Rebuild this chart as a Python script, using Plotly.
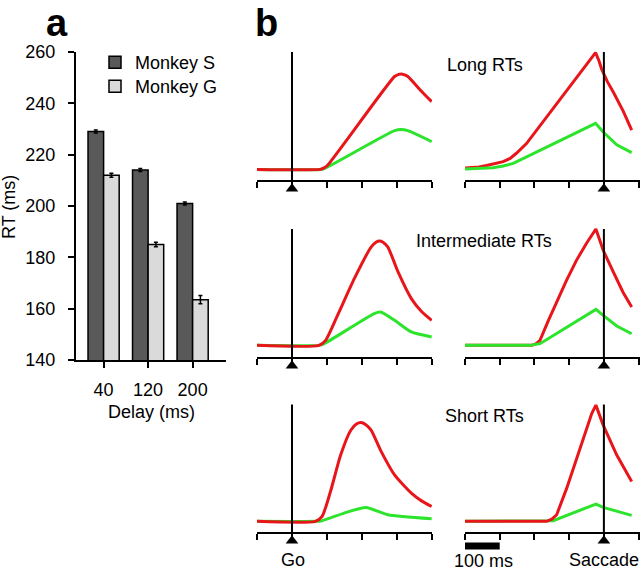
import plotly.graph_objects as go

# Panel a: tiempos de reacción por retraso
DELAYS = ["40", "120", "200"]
RT_MONKEY_S = [229, 214, 201]
RT_MONKEY_S_ERR = [0.6, 0.6, 0.6]
RT_MONKEY_G = [212, 185, 163.5]
RT_MONKEY_G_ERR = [0.8, 0.9, 1.6]
RT_TICKS = [140, 160, 180, 200, 220, 240, 260]

# Panel b: actividad alineada a Go (izquierda) y a la sacada (derecha)
ROW_TITLES = ["Long RTs", "Intermediate RTs", "Short RTs"]
GO_TICKS = [-100, 0, 100, 200, 300, 400]
SAC_TICKS = [-400, -300, -200, -100, 0, 100]

LONG_GO_RED_T = [-100, 80, 90, 101, 293, 305, 312, 320, 331, 365, 399]
LONG_GO_RED = [9, 9, 10, 12, 81, 82.6, 83, 82.4, 81, 71, 61.5]
LONG_GO_GREEN_T = [-100, 82, 95, 293, 312, 331, 399]
LONG_GO_GREEN = [9, 9, 10, 39, 40, 39, 30.5]

LONG_SAC_RED_T = [-400, -360, -338, -310, -290, -270, -252, -223, -24, -14, -7, 10, 27, 56, 80]
LONG_SAC_RED = [10, 10.8, 12, 13.6, 15, 17.5, 21.5, 29, 99.5, 93, 87, 77, 69, 54, 39.5]
LONG_SAC_GREEN_T = [-400, -319, -290, -261, -24, -2, 37, 80]
LONG_SAC_GREEN = [9.3, 10.3, 11.6, 13.7, 44.7, 38, 28, 22]

MID_GO_RED_T = [-100, 77, 96, 130, 178, 226, 240, 250, 260, 274, 303, 341, 370, 399]
MID_GO_RED = [9.8, 9.8, 13.7, 33, 61.5, 86, 89.8, 90.7, 89.8, 86, 66.7, 46, 36, 29.2]
MID_GO_GREEN_T = [-100, 77, 91, 235, 253, 293, 341, 399]
MID_GO_GREEN = [9.8, 9.8, 11, 34.4, 35.6, 29.2, 20.2, 16.3]

MID_SAC_RED_T = [-400, -208, -196, -184, -160, -136, -108, -79, -50, -23, -12, -2, 27, 55, 80]
MID_SAC_RED = [9.8, 9.8, 11, 13.7, 29, 43.4, 60, 75.7, 89, 100, 91, 83.5, 66.7, 51, 39.5]
MID_SAC_GREEN_T = [-400, -213, -184, -23, -2, 37, 80]
MID_SAC_GREEN = [9.8, 9.8, 11.1, 37.7, 33, 24.8, 18.8]

SHORT_GO_RED_T = [-100, 67, 86, 110, 139, 168, 185, 197, 210, 226, 255, 293, 341, 370, 399]
SHORT_GO_RED = [9.1, 9.1, 12.9, 32.3, 60.7, 80, 85, 86, 84.5, 80, 63.3, 45.2, 31, 25, 20.7]
SHORT_GO_GREEN_T = [-100, 67, 86, 149, 211, 274, 399]
SHORT_GO_GREEN = [9.1, 9.1, 9.6, 15.5, 19.9, 14.2, 11.1]

SHORT_SAC_RED_T = [-400, -165, -150, -136, -107, -69, -35, -23, -12, -2, 37, 60, 80]
SHORT_SAC_RED = [9.1, 9.1, 10.8, 14.2, 34.9, 65.9, 93, 99.5, 91, 84, 60.7, 49, 40]
SHORT_SAC_GREEN_T = [-400, -146, -23, -2, 80]
SHORT_SAC_GREEN = [9.1, 9.6, 22.5, 19.9, 13.7]

EVENT_T = [0, 0]
EVENT_Y = [0, 100]
EVENT_MARK_Y = [-6]
SCALE_BAR_T = [-400, -300]

W, H = 640, 571
FONT = "Liberation Sans, Arial, sans-serif"
RED = "#e8161b"
GREEN = "#2ce42c"


def px_x(p):
	return p / W


def px_y(p):
	return 1 - p / H


def main():
	fig = go.Figure()

	# ---- panel a ----
	fig.add_trace(go.Bar(
		x=DELAYS, y=RT_MONKEY_S, name="Monkey S", legend="legend",
		marker=dict(color="#595959", line=dict(color="black", width=1.5)),
		error_y=dict(type="data", array=RT_MONKEY_S_ERR, color="black", thickness=1.5, width=2),
		xaxis="x", yaxis="y"))
	fig.add_trace(go.Bar(
		x=DELAYS, y=RT_MONKEY_G, name="Monkey G", legend="legend2",
		marker=dict(color="#dadada", line=dict(color="black", width=1.5)),
		error_y=dict(type="data", array=RT_MONKEY_G_ERR, color="black", thickness=1.5, width=2),
		xaxis="x", yaxis="y"))

	# ---- panel b ----
	rows = [
		(LONG_GO_RED_T, LONG_GO_RED, LONG_GO_GREEN_T, LONG_GO_GREEN,
		 LONG_SAC_RED_T, LONG_SAC_RED, LONG_SAC_GREEN_T, LONG_SAC_GREEN),
		(MID_GO_RED_T, MID_GO_RED, MID_GO_GREEN_T, MID_GO_GREEN,
		 MID_SAC_RED_T, MID_SAC_RED, MID_SAC_GREEN_T, MID_SAC_GREEN),
		(SHORT_GO_RED_T, SHORT_GO_RED, SHORT_GO_GREEN_T, SHORT_GO_GREEN,
		 SHORT_SAC_RED_T, SHORT_SAC_RED, SHORT_SAC_GREEN_T, SHORT_SAC_GREEN),
	]
	# posiciones en pixeles: (eje, tope de la linea vertical)
	row_px = [(181, 52), (358, 229), (533, 404.5)]
	green_on_top = [(False, True), (False, True), (False, False)]

	axis_style = dict(showline=True, linecolor="black", linewidth=2, ticks="outside",
		ticklen=6, tickwidth=2, tickcolor="black", showticklabels=False,
		showgrid=False, zeroline=False, automargin=False)

	n = 2
	for r, data in enumerate(rows):
		bottom, top = row_px[r]
		unit = (bottom - top) / 100.0
		# el rango baja a -10 para que quepa el triangulo; el eje x queda en y=0
		dom = [px_y(bottom + 10 * unit), px_y(bottom - 102 * unit)]
		for c in range(2):
			xa = "x%d" % n
			ya = "y%d" % n
			red_t, red_y, green_t, green_y = data[c * 4:c * 4 + 4]
			# izquierda: picos redondeados; derecha: picos agudos
			if c == 0:
				shape = dict(shape="spline", smoothing=0.6)
			else:
				shape = dict(shape="linear")
			red = go.Scatter(x=red_t, y=red_y, mode="lines", showlegend=False,
				line=dict(color=RED, width=3, **shape), xaxis=xa, yaxis=ya)
			green = go.Scatter(x=green_t, y=green_y, mode="lines", showlegend=False,
				line=dict(color=GREEN, width=3, **shape), xaxis=xa, yaxis=ya)
			if green_on_top[r][c]:
				fig.add_trace(red)
				fig.add_trace(green)
			else:
				fig.add_trace(green)
				fig.add_trace(red)
			fig.add_trace(go.Scatter(x=EVENT_T, y=EVENT_Y, mode="lines", showlegend=False,
				line=dict(color="black", width=2), xaxis=xa, yaxis=ya))
			fig.add_trace(go.Scatter(x=EVENT_T[:1], y=EVENT_MARK_Y, mode="markers", showlegend=False,
				marker=dict(symbol="triangle-up", size=11, color="black", line=dict(width=0)),
				cliponaxis=False, xaxis=xa, yaxis=ya))

			if c == 0:
				xdom = [px_x(257), px_x(432)]
				xr = [-100, 400]
				tv = GO_TICKS
			else:
				xdom = [px_x(465), 1.0]
				xr = [-400, 104]
				tv = SAC_TICKS
			fig.layout["xaxis%d" % n] = dict(axis_style, domain=xdom, range=xr, tickvals=tv,
				anchor="free", position=px_y(bottom))
			fig.layout["yaxis%d" % n] = dict(domain=dom, range=[-10, 102], visible=False,
				anchor=xa, automargin=False)
			n += 1

	# barra de escala de 100 ms
	fig.add_shape(type="line", xref="x7", yref="paper", x0=SCALE_BAR_T[0], x1=SCALE_BAR_T[1],
		y0=px_y(546), y1=px_y(546), line=dict(color="black", width=7))

	annotations = [
		dict(text="<b>a</b>", x=57, y=0, size=38, anchor="top"),
		dict(text="<b>b</b>", x=266, y=0, size=38, anchor="top"),
		dict(text="RT (ms)", x=9, y=207, size=18, angle=-90),
		dict(text="Delay (ms)", x=151, y=412, size=18),
		dict(text=ROW_TITLES[0], x=484.5, y=65, size=18),
		dict(text=ROW_TITLES[1], x=484, y=241, size=18),
		dict(text=ROW_TITLES[2], x=484, y=416, size=18),
		dict(text="Go", x=293, y=560, size=18),
		dict(text="100 ms", x=483, y=561, size=18),
		dict(text="Saccade", x=604, y=560, size=18),
	]
	for a in annotations:
		fig.add_annotation(text=a["text"], x=px_x(a["x"]), y=px_y(a["y"]), xref="paper", yref="paper",
			showarrow=False, xanchor="center", yanchor=a.get("anchor", "middle"),
			textangle=a.get("angle", 0),
			font=dict(family=FONT, size=a["size"], color="black"))

	legend_style = dict(xanchor="left", yanchor="top", font=dict(size=18),
		bgcolor="rgba(0,0,0,0)", borderwidth=0)

	fig.update_layout(
		width=W, height=H,
		margin=dict(l=0, r=0, t=0, b=0, autoexpand=False),
		paper_bgcolor="white", plot_bgcolor="white",
		font=dict(family=FONT, size=17, color="black"),
		barmode="group", bargap=0.3, bargroupgap=0,
		xaxis=dict(domain=[px_x(76), px_x(226)], range=[-0.62, 2.75], type="category",
			showline=True, linecolor="black", linewidth=2, ticks="outside", ticklen=6,
			tickwidth=2, tickcolor="black", showgrid=False, tickfont=dict(size=18),
			ticklabelstandoff=6, anchor="y", automargin=False),
		yaxis=dict(domain=[px_y(360), px_y(52)], range=[140, 260], tickvals=RT_TICKS,
			showline=True, linecolor="black", linewidth=2, ticks="outside", ticklen=6,
			tickwidth=2, tickcolor="black", showgrid=False, zeroline=False,
			tickfont=dict(size=18), ticklabelstandoff=9, anchor="x", automargin=False),
		legend=dict(legend_style, x=px_x(95), y=px_y(44)),
		legend2=dict(legend_style, x=px_x(95), y=px_y(68)),
		showlegend=True,
	)

	# quitar el margen del body para que el grafico quede en (0, 0)
	fig.write_html("out.html", config={"displayModeBar": False},
		post_script="document.body.style.margin='0px';")


if __name__ == "__main__":
	main()
